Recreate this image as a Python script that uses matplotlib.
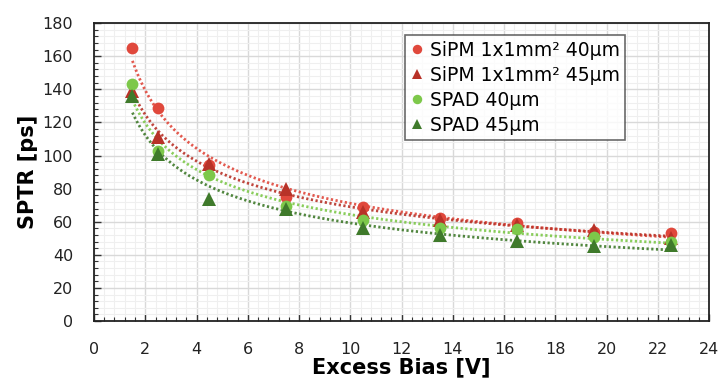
import numpy as np
import matplotlib
matplotlib.use("Agg")
import matplotlib.pyplot as plt
from matplotlib.ticker import MultipleLocator

# data
bias = [1.5, 2.5, 4.5, 7.5, 10.5, 13.5, 16.5, 19.5, 22.5]
sipm_40 = [165, 129, 94, 75, 69, 62, 59.5, 54, 53]
sipm_45 = [139, 111, 95, 80, 66, 61, 58, 55, 50]
spad_40 = [143, 103, 88, 69.5, 61, 56, 55.5, 50.5, 48]
spad_45 = [136, 101, 74, 67.5, 56, 52, 48.5, 45.5, 46]

labels = ["SiPM 1x1mm² 40µm", "SiPM 1x1mm² 45µm", "SPAD 40µm", "SPAD 45µm"]
series = [sipm_40, sipm_45, spad_40, spad_45]
colors = ["#e0483c", "#b83228", "#7dc84a", "#3f7a2b"]
markers = ["o", "^", "o", "^"]
msizes = [8.5, 9.5, 8.5, 9.5]

plt.rcParams['font.family'] = ['DejaVu Sans']

fig = plt.figure(figsize=(7.23, 3.85), dpi=100)
ax = fig.add_axes([0.130, 0.166, 0.851, 0.774])

x = np.array(bias)
xfit = np.linspace(min(bias), max(bias), 200)
handles = []
for ys, c, m, ms, lab in zip(series, colors, markers, msizes, labels):
    # power-law trend line, like the spreadsheet fit
    b, a = np.polyfit(np.log(x), np.log(ys), 1)
    ax.plot(xfit, np.exp(a) * xfit ** b, color=c, lw=2.0, alpha=0.9,
            linestyle=(0, (0.8, 0.9)), zorder=2)
    h, = ax.plot(x, ys, linestyle="none", marker=m, color=c, ms=ms,
                 markeredgewidth=0, label=lab, zorder=3)
    handles.append(h)

ax.set_xlim(0, 24)
ax.set_ylim(0, 180)
ax.xaxis.set_major_locator(MultipleLocator(2))
ax.xaxis.set_minor_locator(MultipleLocator(0.4))
ax.yaxis.set_major_locator(MultipleLocator(20))
ax.yaxis.set_minor_locator(MultipleLocator(4))
ax.grid(which="major", color="#d9d9d9", lw=1.0, zorder=0)
ax.grid(which="minor", color="#efefef", lw=0.8, zorder=0)
ax.set_axisbelow(True)
ax.tick_params(which="both", direction="in", color="#333333", labelsize=11.5,
               labelcolor="#222222")
ax.tick_params(which="major", length=5, width=1)
ax.tick_params(which="minor", length=3, width=0.8)
ax.tick_params(axis="x", pad=15)
ax.tick_params(axis="y", pad=15)
for s in ax.spines.values():
    s.set_color("#222222")
    s.set_linewidth(1.3)

ax.set_xlabel("Excess Bias [V]", fontsize=15, fontweight="bold", labelpad=0)
ax.set_ylabel("SPTR [ps]", fontsize=15, fontweight="bold", labelpad=3)

leg = ax.legend(handles=handles, loc="upper left", bbox_to_anchor=(0.506, 0.96),
                borderaxespad=0, fontsize=13.5, frameon=True, fancybox=False,
                handlelength=0.6, handletextpad=0.4, borderpad=0.3,
                labelspacing=0.32, markerscale=0.8)
leg.get_frame().set_edgecolor("#444444")
leg.get_frame().set_linewidth(1.2)

plt.savefig("out.png", dpi=100)
